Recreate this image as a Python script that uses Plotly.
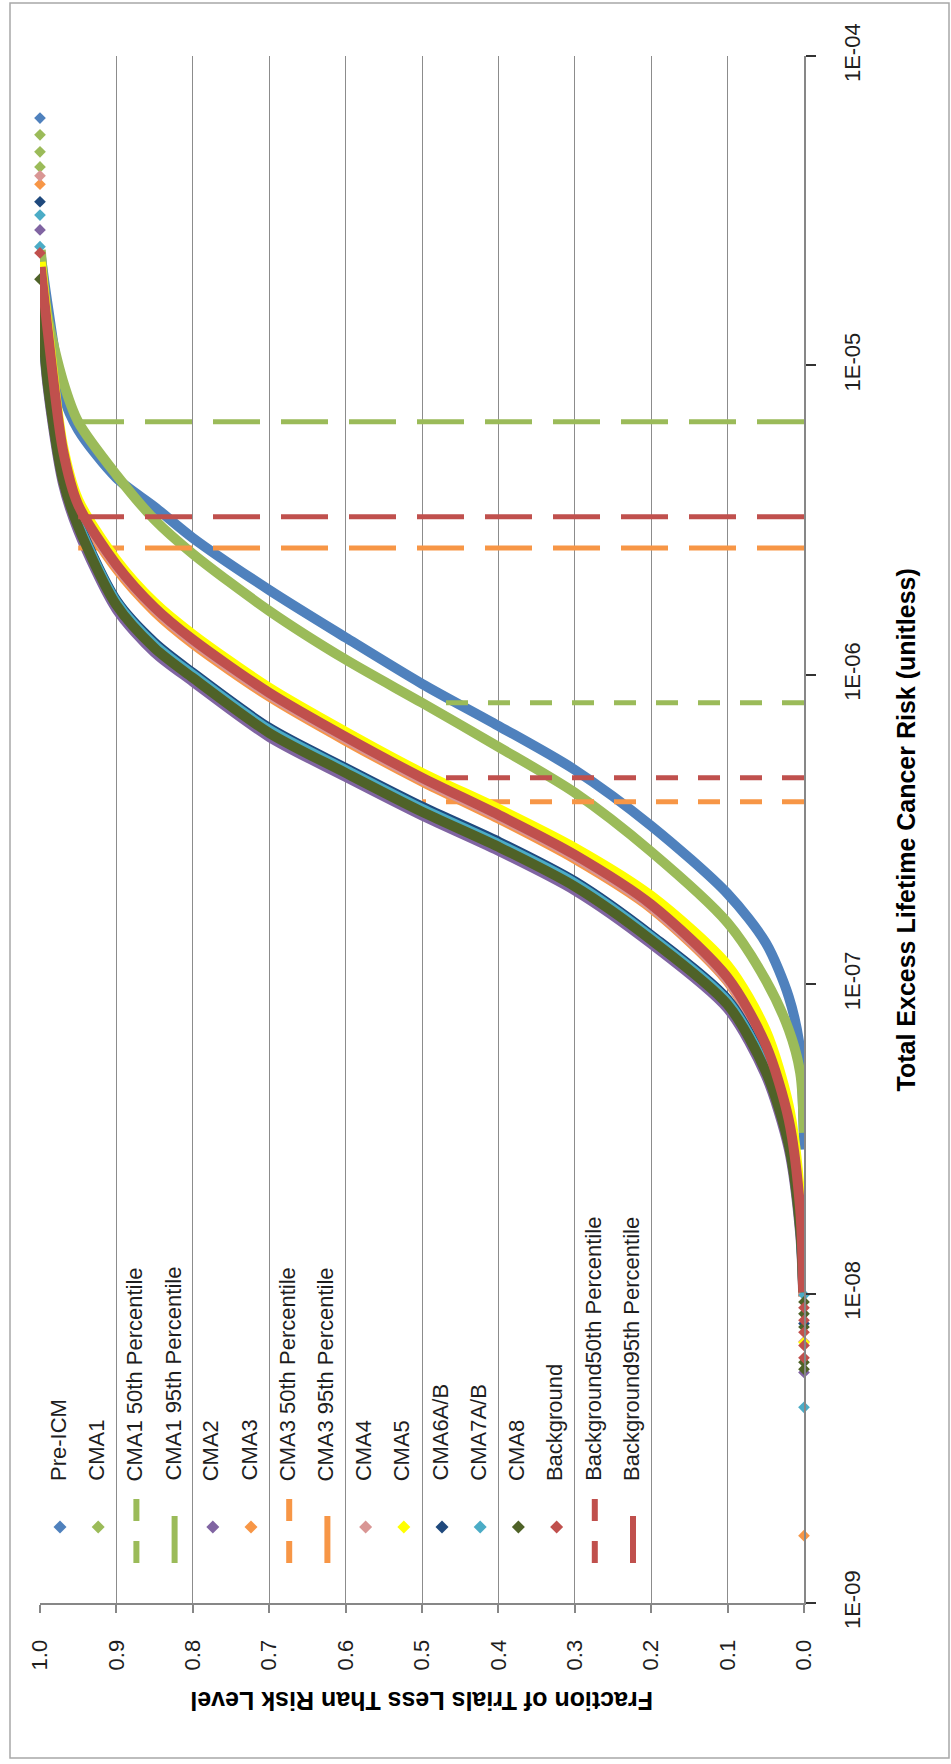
import plotly.graph_objects as go

# ---------------------------------------------------------------------------
# Cumulative distributions: fraction of trials vs. total excess lifetime risk
# ---------------------------------------------------------------------------
PRE_ICM_FRAC = [0.999, 0.99, 0.97, 0.95, 0.9, 0.85, 0.8, 0.7, 0.6, 0.5,
                0.4, 0.3, 0.2, 0.1, 0.05, 0.02, 0.005, 0.001, 0.0]
PRE_ICM_RISK = [2.27e-5, 1.57e-5, 8.03e-6, 6.19e-6, 4.33e-6, 3.49e-6, 2.77e-6, 1.88e-6, 1.32e-6, 9.35e-7,
                6.84e-7, 4.93e-7, 3.25e-7, 1.96e-7, 1.36e-7, 9.11e-8, 6.14e-8, 3.73e-8, 2.92e-8]

CMA1_FRAC = [0.999, 0.99, 0.97, 0.95, 0.9, 0.85, 0.8, 0.7, 0.6, 0.5,
             0.4, 0.3, 0.2, 0.1, 0.05, 0.02, 0.005, 0.0]
CMA1_RISK = [2.36e-5, 1.44e-5, 8.91e-6, 6.57e-6, 4.43e-6, 3.17e-6, 2.46e-6, 1.61e-6, 1.12e-6, 8.12e-7,
             5.85e-7, 4.16e-7, 2.68e-7, 1.58e-7, 1.03e-7, 7.13e-8, 5.18e-8, 3.31e-8]

# fraction levels shared by the remaining series
SHARED_FRAC = [0.999, 0.99, 0.97, 0.95, 0.9, 0.85, 0.8, 0.7, 0.6, 0.5,
               0.4, 0.3, 0.2, 0.1, 0.05, 0.02, 0.005, 0.001]
CMA2_RISK = [1.58e-5, 8.53e-6, 4.15e-6, 2.92e-6, 1.63e-6, 1.18e-6, 9.5e-7, 6.3e-7, 4.68e-7, 3.51e-7,
             2.7e-7, 2.01e-7, 1.35e-7, 8.34e-8, 5.07e-8, 2.94e-8, 1.56e-8, 9.8e-9]
CMA3_RISK = [2.02e-5, 1.26e-5, 5.18e-6, 3.44e-6, 2.20e-6, 1.60e-6, 1.26e-6, 8.5e-7, 6.12e-7, 4.52e-7,
             3.43e-7, 2.54e-7, 1.76e-7, 1.02e-7, 6.19e-8, 3.54e-8, 1.82e-8, 9.8e-9]
CMA4_RISK = [2.05e-5, 1.28e-5, 5.25e-6, 3.49e-6, 2.24e-6, 1.63e-6, 1.28e-6, 8.62e-7, 6.21e-7, 4.58e-7,
             3.48e-7, 2.58e-7, 1.78e-7, 1.03e-7, 6.27e-8, 3.6e-8, 1.84e-8, 9.9e-9]
CMA5_RISK = [2.16e-5, 1.34e-5, 5.50e-6, 3.68e-6, 2.35e-6, 1.71e-6, 1.35e-6, 9.08e-7, 6.54e-7, 4.82e-7,
             3.69e-7, 2.76e-7, 1.93e-7, 1.15e-7, 7.08e-8, 4.05e-8, 2.07e-8, 1.14e-8]
CMA6_RISK = [1.69e-5, 9.11e-6, 4.43e-6, 3.12e-6, 1.74e-6, 1.27e-6, 1.015e-6, 6.74e-7, 5.0e-7, 3.75e-7,
             2.89e-7, 2.15e-7, 1.44e-7, 8.92e-8, 5.42e-8, 3.15e-8, 1.67e-8, 1.05e-8]
CMA7_RISK = [1.67e-5, 8.98e-6, 4.37e-6, 3.08e-6, 1.72e-6, 1.25e-6, 1.0e-6, 6.64e-7, 4.93e-7, 3.69e-7,
             2.84e-7, 2.12e-7, 1.42e-7, 8.79e-8, 5.34e-8, 3.1e-8, 1.65e-8, 1.03e-8]
CMA8_RISK = [1.63e-5, 8.78e-6, 4.27e-6, 3.01e-6, 1.68e-6, 1.22e-6, 9.78e-7, 6.49e-7, 4.82e-7, 3.61e-7,
             2.78e-7, 2.07e-7, 1.39e-7, 8.59e-8, 5.22e-8, 3.03e-8, 1.61e-8, 1.01e-8]
BKG_RISK = [2.08e-5, 1.30e-5, 5.33e-6, 3.54e-6, 2.27e-6, 1.65e-6, 1.30e-6, 8.75e-7, 6.30e-7, 4.65e-7,
            3.53e-7, 2.62e-7, 1.81e-7, 1.05e-7, 6.37e-8, 3.65e-8, 1.87e-8, 1.01e-8]

# isolated extreme trials: highest risks (fraction 1.0) and lowest risks (fraction 0.0)
PRE_ICM_MAX = [6.3e-5]
CMA1_MAX = [5.56e-5, 4.9e-5, 4.38e-5]
CMA2_MAX = [2.74e-5]
CMA3_MAX = [3.85e-5]
CMA4_MAX = [4.1e-5]
CMA6_MAX = [3.38e-5]
CMA7_MAX = [3.06e-5, 2.42e-5]
CMA8_MAX = [1.9e-5]
BKG_MAX = [2.31e-5]

CMA2_MIN = [5.56e-9]
CMA3_MIN = [1.65e-9]
CMA4_MIN = [7.0e-9]
CMA5_MIN = [6.95e-9]
CMA6_MIN = [8.0e-9]
CMA7_MIN = [9.9e-9, 4.29e-9]
CMA8_MIN = [9.4e-9, 8.6e-9, 7.8e-9, 6.0e-9, 5.7e-9]
BKG_MIN = [9.0e-9, 8.2e-9, 7.5e-9, 6.8e-9, 6.2e-9]

# percentile reference levels
CMA1_P50, CMA1_P95 = 8.12e-7, 6.57e-6
CMA3_P50, CMA3_P95 = 3.89e-7, 2.57e-6
BKG_P50, BKG_P95 = 4.65e-7, 3.24e-6
LEVEL_50, LEVEL_95 = 0.50, 0.95

# axis ticks
FRAC_TICKS = [0.0, 0.1, 0.2, 0.3, 0.4, 0.5, 0.6, 0.7, 0.8, 0.9, 1.0]
RISK_TICKS = [1e-9, 1e-8, 1e-7, 1e-6, 1e-5, 1e-4]
RISK_TICK_TEXT = ["1E-09", "1E-08", "1E-07", "1E-06", "1E-05", "1E-04"]

LEGEND_NAMES = ["Pre-ICM", "CMA1", "CMA1 50th Percentile", "CMA1 95th Percentile", "CMA2", "CMA3",
                "CMA3 50th Percentile", "CMA3 95th Percentile", "CMA4", "CMA5", "CMA6A/B", "CMA7A/B",
                "CMA8", "Background", "Background50th Percentile", "Background95th Percentile"]

# ---------------------------------------------------------------------------
C_PRE = "#4F81BD"
C_CMA1 = "#9BBB59"
C_CMA2 = "#8064A2"
C_CMA3 = "#F79646"
C_CMA4 = "#D99694"
C_CMA5 = "#FFFF00"
C_CMA6 = "#1F497D"
C_CMA7 = "#4BACC6"
C_CMA8 = "#4F6228"
C_BKG = "#C0504D"

DASH_50 = "22px,20px"
DASH_95 = "47px,21px"

FONT = "Liberation Sans, Arial, sans-serif"
TEXT_COLOR = "#1e1e1e"
AXIS_GREY = "#878787"

W, H = 951, 1764
ML, MR, MT, MB = 40, 147, 56, 161
PX_L, PX_R = ML, W - MR
PX_T, PX_B = MT, H - MB

fig = go.Figure()


def curve(frac, risk, color, width=10):
    fig.add_trace(go.Scatter(
        x=frac, y=risk, mode="lines",
        line=dict(color=color, width=width, shape="spline", smoothing=0.8),
        showlegend=False, hoverinfo="skip"))


def points(frac_value, risks, color, size=9):
    fig.add_trace(go.Scatter(
        x=[frac_value] * len(risks), y=risks, mode="markers",
        marker=dict(symbol="diamond", size=size, color=color, line=dict(width=0)),
        cliponaxis=False, showlegend=False, hoverinfo="skip"))


def percentile(value, level, color, dash, width):
    fig.add_trace(go.Scatter(
        x=[0.0, level], y=[value, value], mode="lines",
        line=dict(color=color, width=width, dash=dash),
        showlegend=False, hoverinfo="skip"))


# series in plotting order (later ones drawn on top)
curve(PRE_ICM_FRAC, PRE_ICM_RISK, C_PRE)
points(1.0, PRE_ICM_MAX, C_PRE)
curve(CMA1_FRAC, CMA1_RISK, C_CMA1)
points(1.0, CMA1_MAX, C_CMA1)
percentile(CMA1_P50, LEVEL_50, C_CMA1, DASH_50, 5)
percentile(CMA1_P95, LEVEL_95, C_CMA1, DASH_95, 5)
curve(SHARED_FRAC, CMA2_RISK, C_CMA2)
points(1.0, CMA2_MAX, C_CMA2)
points(0.0, CMA2_MIN, C_CMA2)
curve(SHARED_FRAC, CMA3_RISK, C_CMA3)
points(1.0, CMA3_MAX, C_CMA3)
points(0.0, CMA3_MIN, C_CMA3)
percentile(CMA3_P50, LEVEL_50, C_CMA3, DASH_50, 5)
percentile(CMA3_P95, LEVEL_95, C_CMA3, DASH_95, 5)
curve(SHARED_FRAC, CMA4_RISK, C_CMA4)
points(1.0, CMA4_MAX, C_CMA4)
points(0.0, CMA4_MIN, C_CMA4)
curve(SHARED_FRAC, CMA5_RISK, C_CMA5)
points(0.0, CMA5_MIN, C_CMA5)
curve(SHARED_FRAC, CMA6_RISK, C_CMA6)
points(1.0, CMA6_MAX, C_CMA6)
points(0.0, CMA6_MIN, C_CMA6)
curve(SHARED_FRAC, CMA7_RISK, C_CMA7)
points(1.0, CMA7_MAX, C_CMA7)
points(0.0, CMA7_MIN, C_CMA7)
curve(SHARED_FRAC, CMA8_RISK, C_CMA8)
points(1.0, CMA8_MAX, C_CMA8)
points(0.0, CMA8_MIN, C_CMA8)
curve(SHARED_FRAC, BKG_RISK, C_BKG)
points(1.0, BKG_MAX, C_BKG)
points(0.0, BKG_MIN, C_BKG)
percentile(BKG_P50, LEVEL_50, C_BKG, DASH_50, 5)
percentile(BKG_P95, LEVEL_95, C_BKG, DASH_95, 5)

# ---------------------------------------------------------------------------
# Legend, laid out on an invisible pixel-space overlay
LEGEND_STYLE = [("m", C_PRE), ("m", C_CMA1), ("d50", C_CMA1), ("d95", C_CMA1), ("m", C_CMA2),
                ("m", C_CMA3), ("d50", C_CMA3), ("d95", C_CMA3), ("m", C_CMA4), ("m", C_CMA5),
                ("m", C_CMA6), ("m", C_CMA7), ("m", C_CMA8), ("m", C_BKG), ("d50", C_BKG),
                ("d95", C_BKG)]
LEG_X0, LEG_STEP = 60.0, 38.2
LEG_MARK_Y, LEG_TEXT_Y = 1527, 1483
LEG_LINE_Y0, LEG_LINE_Y1 = 1563, 1497

annotations = []
for i, (name, (kind, color)) in enumerate(zip(LEGEND_NAMES, LEGEND_STYLE)):
    lx = LEG_X0 + LEG_STEP * i
    if kind == "m":
        fig.add_trace(go.Scatter(
            x=[lx], y=[LEG_MARK_Y], xaxis="x2", yaxis="y2", mode="markers",
            marker=dict(symbol="diamond", size=10, color=color, line=dict(width=0)),
            showlegend=False, hoverinfo="skip"))
    else:
        fig.add_trace(go.Scatter(
            x=[lx, lx], y=[LEG_LINE_Y0, LEG_LINE_Y1], xaxis="x2", yaxis="y2", mode="lines",
            line=dict(color=color, width=6, dash=DASH_50 if kind == "d50" else DASH_95),
            showlegend=False, hoverinfo="skip"))
    annotations.append(dict(
        text=name, xref="x2", yref="y2", x=lx - 2, y=LEG_TEXT_Y,
        xanchor="center", yanchor="bottom", textangle=-90, showarrow=False,
        font=dict(family=FONT, size=22, color=TEXT_COLOR)))


def px_to_paper_x(px):
    return (px - PX_L) / (PX_R - PX_L)


def px_to_paper_y(py):
    return (PX_B - py) / (PX_B - PX_T)


# axis titles (the whole chart is laid out turned a quarter turn)
annotations.append(dict(
    text="<b>Total Excess Lifetime Cancer Risk (unitless)</b>", xref="paper", yref="paper",
    x=px_to_paper_x(905), y=0.5, xanchor="center", yanchor="middle", textangle=-90,
    showarrow=False, font=dict(family=FONT, size=25, color="#000000")))
annotations.append(dict(
    text="<b>Fraction of Trials Less Than Risk Level</b>", xref="paper", yref="paper",
    x=0.5, y=px_to_paper_y(1701), xanchor="center", yanchor="middle", textangle=180,
    showarrow=False, font=dict(family=FONT, size=25, color="#000000")))

shapes = [dict(type="rect", xref="paper", yref="paper",
               x0=px_to_paper_x(10), x1=px_to_paper_x(949),
               y0=px_to_paper_y(1758), y1=px_to_paper_y(3),
               line=dict(color="#a8a8a8", width=1.5), fillcolor="rgba(0,0,0,0)", layer="below")]

fig.update_layout(
    template="none",
    width=W, height=H,
    margin=dict(l=ML, r=MR, t=MT, b=MB, pad=0),
    paper_bgcolor="white", plot_bgcolor="white",
    font=dict(family=FONT, size=22, color=TEXT_COLOR),
    showlegend=False,
    annotations=annotations,
    shapes=shapes,
    xaxis=dict(
        range=[1.0, 0.0], tickmode="array", tickvals=FRAC_TICKS, tickformat=".1f",
        tickangle=-90, ticks="outside", ticklen=8, tickwidth=1.5, tickcolor=AXIS_GREY,
        showline=True, linecolor=AXIS_GREY, linewidth=2,
        showgrid=True, gridcolor="#8c8c8c", gridwidth=1, zeroline=False,
        tickfont=dict(family=FONT, size=22, color=TEXT_COLOR), ticklabelstandoff=18,
        automargin=False, fixedrange=True),
    yaxis=dict(
        type="log", range=[-9, -4], side="right", tickmode="array",
        tickvals=RISK_TICKS, ticktext=RISK_TICK_TEXT, tickangle=-90,
        ticks="outside", ticklen=10, tickwidth=1.5, tickcolor="#333333",
        showline=True, linecolor=AXIS_GREY, linewidth=2,
        showgrid=False, zeroline=False,
        tickfont=dict(family=FONT, size=22, color=TEXT_COLOR), ticklabelstandoff=18,
        automargin=False, fixedrange=True),
    xaxis2=dict(overlaying="x", anchor="y2", range=[PX_L, PX_R], visible=False, fixedrange=True),
    yaxis2=dict(overlaying="y", anchor="x2", range=[PX_B, PX_T], visible=False, fixedrange=True),
)

fig.write_html("out.html")
